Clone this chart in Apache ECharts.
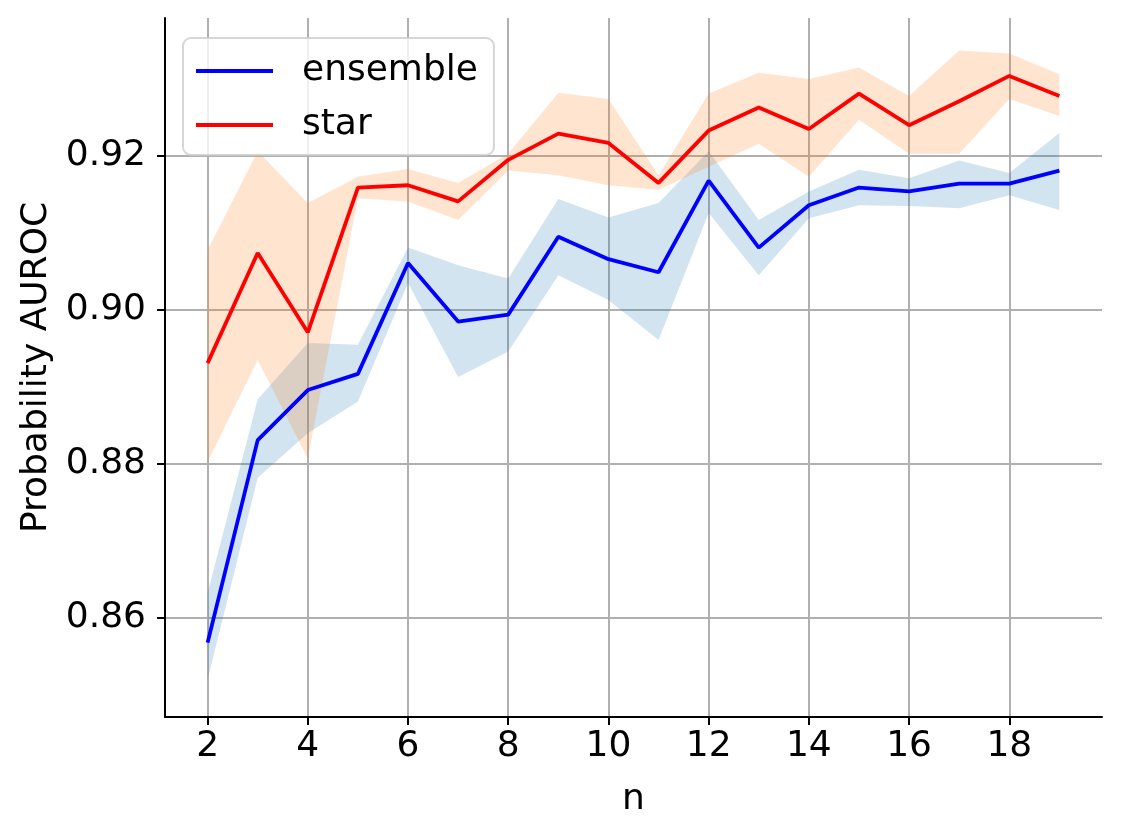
<!DOCTYPE html>
<html>
<head>
<meta charset="utf-8">
<script src="https://cdn.jsdelivr.net/npm/echarts@6/dist/echarts.min.js"></script>
<style>
html,body{margin:0;padding:0;background:#fff;}
#chart{width:1122px;height:837px;}
</style>
</head>
<body>
<div id="chart"></div>
<script>
// ---- data ----
const nValues = [2,3,4,5,6,7,8,9,10,11,12,13,14,15,16,17,18,19];
const ensembleMean = [0.8568,0.8831,0.8896,0.8917,0.9061,0.8985,0.8994,0.9095,0.9066,0.9049,0.9168,0.9081,0.9136,0.9159,0.9154,0.9164,0.9164,0.9181];
const ensembleLow  = [0.8520,0.8782,0.8840,0.8881,0.9035,0.8913,0.8946,0.9045,0.9013,0.8961,0.9126,0.9045,0.9119,0.9136,0.9135,0.9132,0.9149,0.9130];
const ensembleHigh = [0.8632,0.8884,0.8957,0.8955,0.9081,0.9058,0.9041,0.9144,0.9120,0.9139,0.9206,0.9117,0.9154,0.9182,0.9171,0.9194,0.9178,0.9230];
const starMean = [0.8931,0.9074,0.8971,0.9159,0.9162,0.9141,0.9195,0.9229,0.9217,0.9165,0.9233,0.9263,0.9235,0.9281,0.9240,0.9271,0.9304,0.9278];
const starLow  = [0.8803,0.8935,0.8807,0.9145,0.9141,0.9117,0.9181,0.9175,0.9162,0.9156,0.9186,0.9216,0.9173,0.9247,0.9203,0.9203,0.9274,0.9252];
const starHigh = [0.9078,0.9206,0.9139,0.9173,0.9183,0.9165,0.9203,0.9282,0.9274,0.9175,0.9281,0.9308,0.9300,0.9315,0.9278,0.9337,0.9333,0.9306];
const xTicks = [2,4,6,8,10,12,14,16,18];
const yTicks = [0.86,0.88,0.90,0.92];
const seriesNames = ['ensemble','star'];
const xLabel = 'n';
const yLabel = 'Probability AUROC';

const FONT = 'DejaVu Sans';
const FS = 36;

function bandSeries(low, high, color) {
  const data = nValues.map((n, i) => [n, low[i], high[i]]);
  return {
    type: 'custom',
    silent: true,
    z: 1,
    data: data,
    encode: {x: 0, y: [1, 2]},
    renderItem: function (params, api) {
      if (params.dataIndex !== 0) return null;
      const upper = data.map(d => api.coord([d[0], d[2]]));
      const lower = data.map(d => api.coord([d[0], d[1]])).reverse();
      return {
        type: 'polygon',
        shape: {points: upper.concat(lower)},
        style: {fill: color, opacity: 0.2, stroke: null}
      };
    }
  };
}

function lineSeries(name, values, color) {
  return {
    name: name,
    type: 'line',
    z: 3,
    data: nValues.map((n, i) => [n, values[i]]),
    symbol: 'none',
    lineStyle: {color: color, width: 3.8},
    itemStyle: {color: color},
    animation: false
  };
}

const chart = echarts.init(document.getElementById('chart'), null, {renderer: 'canvas'});
chart.setOption({
  animation: false,
  backgroundColor: '#ffffff',
  grid: {left: 165, right: 20, top: 18, bottom: 120, containLabel: false},
  legend: {
    orient: 'vertical',
    left: 183, top: 38,
    data: seriesNames,
    icon: 'rect',
    itemWidth: 77, itemHeight: 4,
    itemGap: 12,
    padding: [12, 16, 9, 13],
    borderColor: 'rgba(204,204,204,0.8)',
    borderWidth: 2,
    borderRadius: 8,
    backgroundColor: 'rgba(255,255,255,0.8)',
    textStyle: {fontFamily: FONT, fontSize: FS, color: '#000', padding: [0,0,0,24], lineHeight: 42}
  },
  xAxis: {
    type: 'value',
    min: 1.15, max: 19.85,
    name: xLabel,
    nameLocation: 'middle',
    nameGap: 65,
    nameTextStyle: {fontFamily: FONT, fontSize: FS, color: '#000'},
    axisLine: {show: true, onZero: false, lineStyle: {color: '#000', width: 2}},
    axisTick: {show: true, inside: false, length: 8, lineStyle: {color: '#000', width: 2}, customValues: xTicks},
    axisLabel: {fontFamily: FONT, fontSize: FS, color: '#000', margin: 12, customValues: xTicks,
      formatter: v => String(v)},
    splitLine: {show: true, lineStyle: {color: '#b0b0b0', width: 2}}
  },
  yAxis: {
    type: 'value',
    min: 0.84714, max: 0.93792,
    name: yLabel,
    nameLocation: 'middle',
    nameGap: 110,
    nameTextStyle: {fontFamily: FONT, fontSize: FS, color: '#000'},
    axisLine: {show: true, onZero: false, lineStyle: {color: '#000', width: 2}},
    axisTick: {show: true, inside: false, length: 8, lineStyle: {color: '#000', width: 2}, customValues: yTicks},
    axisLabel: {fontFamily: FONT, fontSize: FS, color: '#000', margin: 19, customValues: yTicks,
      formatter: v => v.toFixed(2)},
    splitLine: {show: true, lineStyle: {color: '#b0b0b0', width: 2}}
  },
  series: [
    bandSeries(ensembleLow, ensembleHigh, '#1f77b4'),
    lineSeries(seriesNames[0], ensembleMean, '#0000ff'),
    bandSeries(starLow, starHigh, '#ff7f0e'),
    lineSeries(seriesNames[1], starMean, '#ff0000')
  ]
});
</script>
</body>
</html>
